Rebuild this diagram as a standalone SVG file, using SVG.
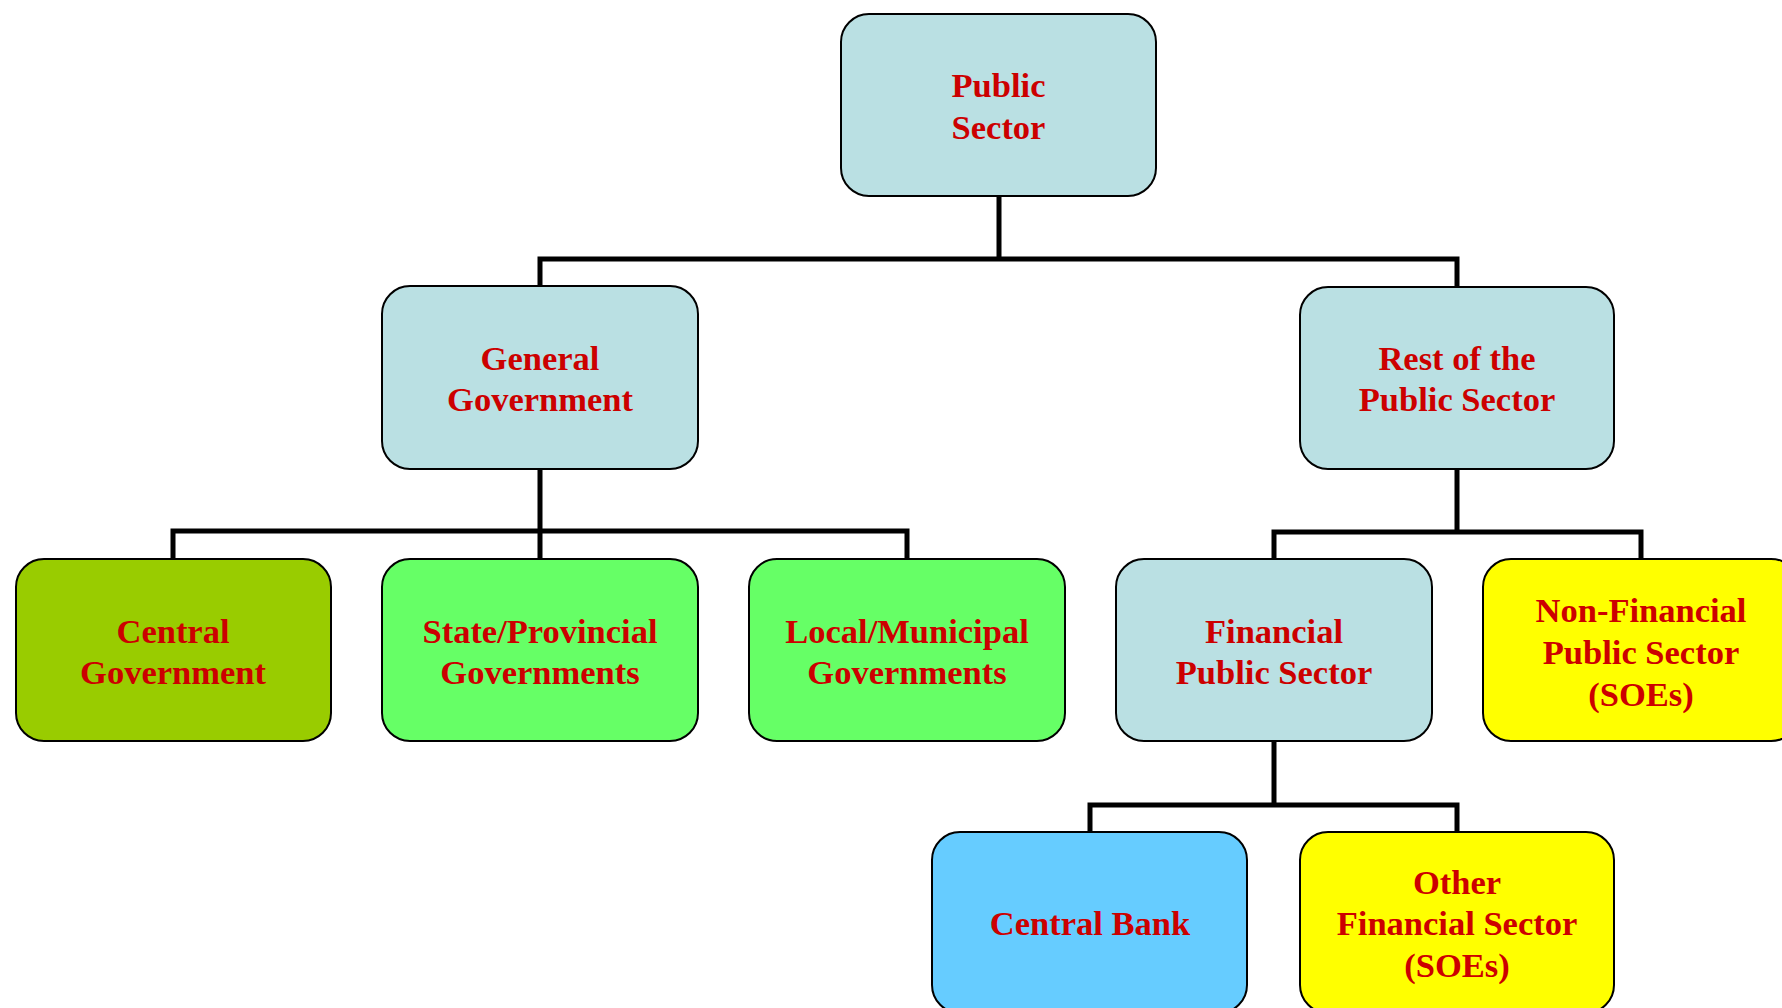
<svg xmlns="http://www.w3.org/2000/svg" width="1782" height="1008" viewBox="0 0 1782 1008">
  <style>
    .box { stroke: #000; stroke-width: 2; }
    .blue { fill: #BAE0E3; }
    .olive { fill: #99CC00; }
    .green { fill: #66FF66; }
    .yellow { fill: #FFFF00; }
    .sky { fill: #66CCFF; }
    .lbl { font-family: "Liberation Serif", "Times New Roman", serif; font-weight: bold; font-size: 34.5px; fill: #CC0000; text-anchor: middle; }
    .wire { fill: none; stroke: #000; stroke-width: 5; stroke-linejoin: miter; }
  </style>

  <rect width="1782" height="1008" fill="#fff"/>

  <!-- tree connectors -->
  <g id="connectors">
    <path class="wire" d="M999 196 V259 M540 286 V259 H1457 V286"/>
    <path class="wire" d="M540 469 V531 M173 559 V531 H907 V559 M540 531 V559"/>
    <path class="wire" d="M1457 469 V532 M1274 559 V532 H1641 V559"/>
    <path class="wire" d="M1274 741 V805 M1090 832 V805 H1457 V832"/>
  </g>

  <g id="public-sector">
    <rect class="box blue" x="841" y="14" width="315" height="182" rx="28"/>
    <text class="lbl" x="998.5" y="97">Public</text>
    <text class="lbl" x="998.5" y="139">Sector</text>
  </g>

  <g id="general-government">
    <rect class="box blue" x="382" y="286" width="316" height="183" rx="28"/>
    <text class="lbl" x="540" y="370">General</text>
    <text class="lbl" x="540" y="411">Government</text>
  </g>

  <g id="rest-of-public-sector">
    <rect class="box blue" x="1300" y="287" width="314" height="182" rx="28"/>
    <text class="lbl" x="1457" y="370">Rest of the</text>
    <text class="lbl" x="1457" y="411">Public Sector</text>
  </g>

  <g id="central-government">
    <rect class="box olive" x="16" y="559" width="315" height="182" rx="28"/>
    <text class="lbl" x="173" y="643">Central</text>
    <text class="lbl" x="173" y="684">Government</text>
  </g>

  <g id="state-governments">
    <rect class="box green" x="382" y="559" width="316" height="182" rx="28"/>
    <text class="lbl" x="540" y="643">State/Provincial</text>
    <text class="lbl" x="540" y="684">Governments</text>
  </g>

  <g id="local-governments">
    <rect class="box green" x="749" y="559" width="316" height="182" rx="28"/>
    <text class="lbl" x="907" y="643">Local/Municipal</text>
    <text class="lbl" x="907" y="684">Governments</text>
  </g>

  <g id="financial-public-sector">
    <rect class="box blue" x="1116" y="559" width="316" height="182" rx="28"/>
    <text class="lbl" x="1274" y="643">Financial</text>
    <text class="lbl" x="1274" y="684">Public Sector</text>
  </g>

  <g id="non-financial-public-sector">
    <rect class="box yellow" x="1483" y="559" width="316" height="182" rx="28"/>
    <text class="lbl" x="1641" y="622">Non-Financial</text>
    <text class="lbl" x="1641" y="664">Public Sector</text>
    <text class="lbl" x="1641" y="706">(SOEs)</text>
  </g>

  <g id="central-bank">
    <rect class="box sky" x="932" y="832" width="315" height="181" rx="28"/>
    <text class="lbl" x="1090" y="935">Central Bank</text>
  </g>

  <g id="other-financial-sector">
    <rect class="box yellow" x="1300" y="832" width="314" height="181" rx="28"/>
    <text class="lbl" x="1457" y="894">Other</text>
    <text class="lbl" x="1457" y="935">Financial Sector</text>
    <text class="lbl" x="1457" y="977">(SOEs)</text>
  </g>
</svg>
